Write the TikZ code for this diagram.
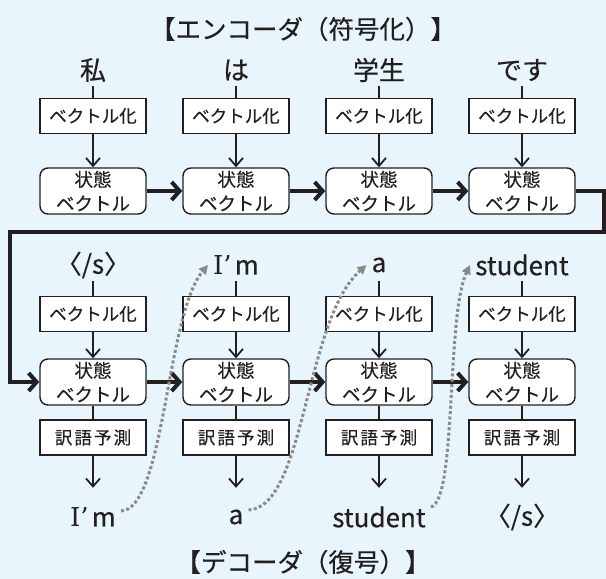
\documentclass[tikz,border=0pt]{standalone}
\usepackage{fontspec}
\setmainfont{Noto Sans CJK JP}[FakeBold=0.4,AutoFakeBold=0.4]
\newfontfamily\serf{DejaVu Serif}
\usetikzlibrary{arrows.meta,calc}
\definecolor{bg}{HTML}{E8F5FC}
\definecolor{ink}{HTML}{231F20}
\definecolor{dotg}{HTML}{8A8A8A}
\newcommand{\wordIm}{{\serf I’}\hspace{3pt}m}
\newcommand{\wordEos}{〈/s〉}
\begin{document}
\begin{tikzpicture}[x=1pt,y=-1pt,
  vecbox/.style={draw=ink,line width=1.4pt,fill=white,minimum width=106pt,minimum height=35pt,inner sep=0pt,font=\fontsize{17.5}{17.5}\selectfont,text=ink},
  predbox/.style={vecbox,font=\fontsize{17.5}{17.5}\selectfont\addfontfeatures{LetterSpace=12}},
  statebox/.style={vecbox,rounded corners=8pt,minimum height=46pt,align=center,font=\fontsize{18.5}{24}\selectfont},
  word/.style={font=\fontsize{26}{26}\selectfont,text=ink,inner ysep=0pt,inner xsep=5pt,minimum height=32pt},
  outword/.style={word,minimum height=58pt},
  title/.style={font=\fontsize{25.5}{25.5}\selectfont,text=ink,inner sep=0pt},
  plainline/.style={draw=ink,line width=1.8pt},
  thinarrow/.style={draw=ink,line width=1.8pt,-{Straight Barb[length=8pt,width=14pt]}},
  thickarrow/.style={draw=ink,line width=4pt,-{Straight Barb[length=8pt,width=18pt]}},
  dotarrow/.style={draw=dotg,line width=3pt,dash pattern=on 3pt off 2.4pt,-{Triangle[length=9pt,width=9pt]}},
]
\fill[bg] (0,0) rectangle (606,579);
\useasboundingbox (0,0) rectangle (606,579);

% titles
\node[title] (tenc) at (303,29) {【エンコーダ（符号化）】};
\node[title] (tdec) at (303,562) {【デコーダ（復号）】};

% encoder
\foreach \i/\x/\w in {1/93/私,2/236/は,3/379/学生,4/522/です}{
  \node[word] (e\i) at (\x,70) {\w};
  \node[vecbox] (ev\i) at (\x,116) {ベクトル化};
  \node[statebox] (es\i) at (\x,191) {状態\\ベクトル};
  \draw[plainline] (e\i) -- (ev\i);
  \draw[thinarrow] (ev\i) -- (es\i);
}
\foreach \i/\j in {1/2,2/3,3/4}{
  \draw[thickarrow] (es\i) -- (es\j);
}

% decoder
\foreach \i/\x/\w/\o in {1/93/{\wordEos}/{\wordIm},2/236/{\wordIm}/a,3/379/a/student,4/522/student/{\wordEos}}{
  \node[word] (di\i) at (\x,265) {\w};
  \node[vecbox] (dv\i) at (\x,314) {ベクトル化};
  \node[statebox] (ds\i) at (\x,382) {状態\\ベクトル};
  \node[predbox] (dp\i) at (\x,437.5) {訳語予測};
  \node[outword] (do\i) at (\x,517) {\o};
  \draw[plainline] (di\i) -- (dv\i);
  \draw[thinarrow] (dv\i) -- (ds\i);
  \draw[plainline] (ds\i) -- (dp\i);
  \draw[thinarrow] (dp\i) -- (do\i);
}
\foreach \i/\j in {1/2,2/3,3/4}{
  \draw[thickarrow] (ds\i) -- (ds\j);
}

% loop from encoder to decoder
\coordinate (lpR) at (604,232);
\coordinate (lpL) at (10,232);
\draw[thickarrow] (es4.east) -| (lpR) -- (lpL) |- (ds1.west);

% dotted feedback curves
\draw[dotarrow] ($(do1.east)+(0,-6)$) .. controls ($(do1.east)+(44,-8)$) and ($(di2.west)+(-42,50)$) .. (di2.west);
\draw[dotarrow] ($(do2.east)+(0,-7)$) .. controls ($(do2.east)+(57,-10)$) and ($(di3.west)+(-62,55)$) .. (di3.west);
\draw[dotarrow] ($(do3.east)+(0,-10)$) .. controls ($(do3.east)+(26,-16)$) and ($(di4.west)+(-24,50)$) .. (di4.west);
\end{tikzpicture}
\end{document}
